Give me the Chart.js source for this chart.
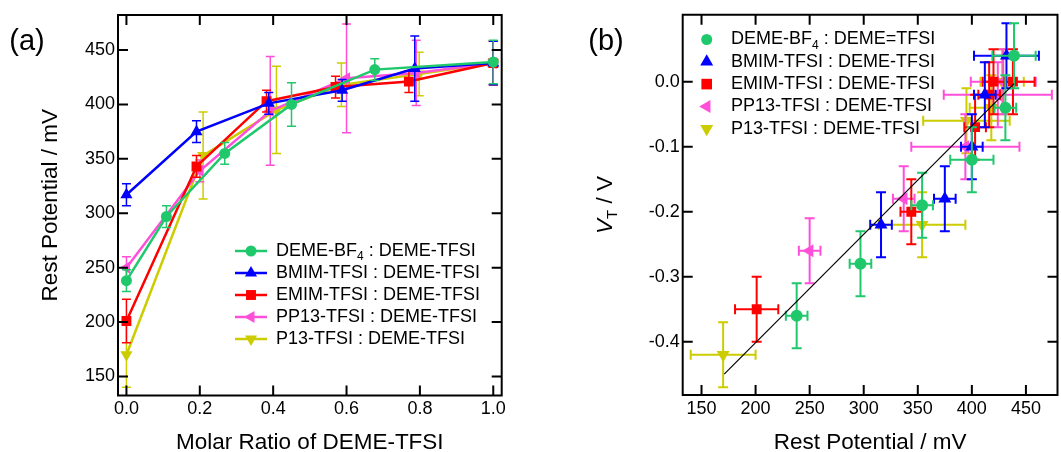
<!DOCTYPE html>
<html><head><meta charset="utf-8">
<script src="https://cdn.jsdelivr.net/npm/chart.js@4.4.1/dist/chart.umd.min.js"></script>
<style>
html,body{margin:0;padding:0;background:#fff;overflow:hidden;width:1061px;height:452px;}
#wa{position:absolute;left:0;top:0;width:530px;height:452px;}
#wb{position:absolute;left:530px;top:0;width:535px;height:452px;}
</style></head><body>
<div id="wa"><canvas id="ca" width="530" height="452"></canvas></div>
<div id="wb"><canvas id="cb" width="535" height="452"></canvas></div>
<script>
const FONT = '"Liberation Sans", Arial, Helvetica, sans-serif';

// ---------- Panel (a): rest potential (mV) vs molar ratio of DEME-TFSI ----------
const ratioBF4  = [0, 0.109, 0.268, 0.450, 0.677, 1.0];
const restBF4   = [238, 297, 355, 400, 432, 439];
const errBF4    = [10, 10, 10, 20, 10, 20];
const ratioBMIM = [0, 0.191, 0.388, 0.588, 0.786, 1.0];
const restBMIM  = [317, 375, 401, 413, 433, 438];
const errBMIM   = [10, 10, 10, 10, 30, 20];
const ratioEMIM = [0, 0.191, 0.382, 0.570, 0.770, 1.0];
const restEMIM  = [201, 343, 403, 416, 421, 438];
const errEMIM   = [20, 10, 10, 10, 10, 20];
const ratioPP13 = [0, 0.200, 0.392, 0.600, 0.790, 1.0];
const restPP13  = [250, 339, 394, 424, 429, 438];
const errPP13   = [10, 10, 50, 50, 30, 20];
const ratioP13  = [0, 0.209, 0.409, 0.586, 0.798, 1.0];
const restP13   = [170, 353, 395, 418, 428, 438];
const errP13    = [30, 40, 40, 20, 20, 20];

// ---------- Panel (b): V_T (V) vs rest potential (mV) ----------
const rbBF4     = [238, 297, 354, 400, 431, 439];
const vtBF4     = [-0.36, -0.28, -0.19, -0.12, -0.04, 0.04];
const rbErrBF4  = [10, 10, 10, 20, 10, 20];
const vtErrBF4  = [0.05, 0.05, 0.05, 0.05, 0.05, 0.05];
const rbBMIM    = [316, 375, 400, 412, 432];
const vtBMIM    = [-0.22, -0.18, -0.10, -0.02, 0.04];
const rbErrBMIM = [10, 10, 10, 10, 30];
const vtErrBMIM = [0.05, 0.05, 0.05, 0.05, 0.05];
const rbEMIM    = [201, 344, 403, 416, 420, 438];
const vtEMIM    = [-0.35, -0.20, -0.07, -0.02, 0.0, 0.0];
const rbErrEMIM = [20, 10, 10, 10, 10, 20];
const vtErrEMIM = [0.05, 0.05, 0.05, 0.05, 0.05, 0.05];
const rbPP13    = [250, 337, 394, 424, 429];
const vtPP13    = [-0.26, -0.18, -0.10, -0.02, 0.0];
const rbErrPP13 = [10, 10, 50, 50, 30];
const vtErrPP13 = [0.05, 0.05, 0.05, 0.05, 0.05];
const rbP13     = [170, 354, 395, 418, 428];
const vtP13     = [-0.42, -0.22, -0.06, -0.04, 0.0];
const rbErrP13  = [30, 40, 40, 20, 20];
const vtErrP13  = [0.05, 0.05, 0.05, 0.05, 0.05];
const fitRest   = [171, 439];
const fitVt     = [-0.450, -0.003];

// ---------- ticks & labels ----------
const xTicksA = [0, 0.2, 0.4, 0.6, 0.8, 1.0];
const yTicksA = [150, 200, 250, 300, 350, 400, 450];
const xTicksB = [150, 200, 250, 300, 350, 400, 450];
const yTicksB = [0, -0.1, -0.2, -0.3, -0.4];
const labelsA = ['DEME-BF_4 : DEME-TFSI', 'BMIM-TFSI : DEME-TFSI', 'EMIM-TFSI : DEME-TFSI', 'PP13-TFSI : DEME-TFSI', 'P13-TFSI : DEME-TFSI'];
const labelsB = ['DEME-BF_4 : DEME=TFSI', 'BMIM-TFSI : DEME-TFSI', 'EMIM-TFSI : DEME-TFSI', 'PP13-TFSI : DEME-TFSI', 'P13-TFSI : DEME-TFSI'];

const COLORS = ['#20c86c', '#0000ff', '#ff0000', '#ff4fd9', '#cccc00'];
const STYLES = [['circle', 0], ['triangle', 0], ['rect', 0], ['triangle', -90], ['triangle', 180]];

Chart.defaults.font.family = FONT;
Chart.defaults.color = '#000';

function pts(xs, ys) { return xs.map((x, i) => ({x: x, y: ys[i]})); }

function marker(ctx, style, rot, r, x, y) {
  ctx.beginPath();
  if (style === 'circle') ctx.arc(x, y, r, 0, 2 * Math.PI);
  else if (style === 'rect') { const s = r * Math.SQRT1_2; ctx.rect(x - s, y - s, 2 * s, 2 * s); }
  else {
    let a = rot * Math.PI / 180;
    for (let k = 0; k < 3; k++) {
      const px = x + Math.sin(a) * r, py = y - Math.cos(a) * r;
      if (k) ctx.lineTo(px, py); else ctx.moveTo(px, py);
      a += 2 * Math.PI / 3;
    }
    ctx.closePath();
  }
  ctx.fill();
}

function richText(ctx, text, x, y, size) {
  const parts = text.split(/(_\d)/);
  ctx.textAlign = 'left'; ctx.textBaseline = 'middle'; ctx.fillStyle = '#000';
  let cx = x;
  parts.forEach(p => {
    if (!p) return;
    if (p[0] === '_') {
      ctx.font = (size * 0.67) + 'px ' + FONT;
      ctx.fillText(p.slice(1), cx, y + size * 0.33);
      cx += ctx.measureText(p.slice(1)).width;
    } else {
      ctx.font = size + 'px ' + FONT;
      ctx.fillText(p, cx, y);
      cx += ctx.measureText(p).width;
    }
  });
}

const errorBars = {
  id: 'errorBars',
  beforeDatasetDraw(chart, args) {
    const ds = chart.data.datasets[args.index];
    if (!ds.yErr && !ds.xErr) return;
    const ctx = chart.ctx, xs = chart.scales.x, ys = chart.scales.y;
    const cap = ds.capHalf || 4.5;
    ctx.save();
    ctx.strokeStyle = ds.borderColor; ctx.lineWidth = ds.errWidth || 1.5; ctx.lineCap = 'butt';
    ctx.beginPath();
    ds.data.forEach((p, i) => {
      const px = xs.getPixelForValue(p.x), py = ys.getPixelForValue(p.y);
      if (ds.yErr) {
        const y1 = ys.getPixelForValue(p.y + ds.yErr[i]), y2 = ys.getPixelForValue(p.y - ds.yErr[i]);
        ctx.moveTo(px, y1); ctx.lineTo(px, y2);
        ctx.moveTo(px - cap, y1); ctx.lineTo(px + cap, y1);
        ctx.moveTo(px - cap, y2); ctx.lineTo(px + cap, y2);
      }
      if (ds.xErr) {
        const x1 = xs.getPixelForValue(p.x - ds.xErr[i]), x2 = xs.getPixelForValue(p.x + ds.xErr[i]);
        ctx.moveTo(x1, py); ctx.lineTo(x2, py);
        ctx.moveTo(x1, py - cap); ctx.lineTo(x1, py + cap);
        ctx.moveTo(x2, py - cap); ctx.lineTo(x2, py + cap);
      }
    });
    ctx.stroke();
    ctx.restore();
  }
};

const frame = {
  id: 'frame',
  afterDatasetsDraw(chart) {
    const {ctx, chartArea: a, scales: {x, y}} = chart;
    const L = 10;
    ctx.save();
    ctx.strokeStyle = '#000'; ctx.lineWidth = 2; ctx.lineCap = 'butt';
    ctx.beginPath();
    ctx.rect(a.left, a.top, a.right - a.left, a.bottom - a.top);
    x.ticks.forEach(t => {
      const p = x.getPixelForValue(t.value);
      ctx.moveTo(p, a.bottom); ctx.lineTo(p, a.bottom - L);
      ctx.moveTo(p, a.top); ctx.lineTo(p, a.top + L);
    });
    y.ticks.forEach(t => {
      const p = y.getPixelForValue(t.value);
      ctx.moveTo(a.left, p); ctx.lineTo(a.left + L, p);
      ctx.moveTo(a.right, p); ctx.lineTo(a.right - L, p);
    });
    ctx.stroke();
    ctx.restore();
  }
};

function axisCfg(min, max, ticksArr, fmt, fitFn, title) {
  return {
    type: 'linear', min: min, max: max,
    grid: {display: false, drawTicks: false}, border: {display: false},
    afterBuildTicks: s => { s.ticks = ticksArr.map(v => ({value: v})); },
    ticks: {font: {size: 18}, autoSkip: false, maxRotation: 0, callback: fmt},
    title: title,
    afterFit: fitFn
  };
}

// ---------------- Chart (a) ----------------
const dataA = [
  [ratioBF4, restBF4, errBF4], [ratioBMIM, restBMIM, errBMIM], [ratioEMIM, restEMIM, errEMIM],
  [ratioPP13, restPP13, errPP13], [ratioP13, restP13, errP13]
];
const dsA = dataA.map((d, i) => ({
  label: labelsA[i], data: pts(d[0], d[1]), yErr: d[2],
  borderColor: COLORS[i], backgroundColor: COLORS[i], borderWidth: 2.5, showLine: true,
  pointStyle: STYLES[i][0], pointRotation: STYLES[i][1], pointRadius: STYLES[i][0] === 'circle' ? 5.5 : 7,
  pointBorderWidth: 0, pointHoverRadius: 0, capHalf: 4.5, errWidth: 1.5
}));

const decoA = {
  id: 'decoA',
  afterDraw(chart) {
    const ctx = chart.ctx;
    ctx.save();
    ctx.fillStyle = '#000'; ctx.font = '29px ' + FONT; ctx.textAlign = 'center'; ctx.textBaseline = 'middle';
    ctx.fillText('(a)', 27, 42);
    labelsA.forEach((t, i) => {
      const y = 251 + i * 22;
      ctx.strokeStyle = COLORS[i]; ctx.lineWidth = 2.5;
      ctx.beginPath(); ctx.moveTo(235, y); ctx.lineTo(267, y); ctx.stroke();
      ctx.fillStyle = COLORS[i];
      marker(ctx, STYLES[i][0], STYLES[i][1], STYLES[i][0] === 'circle' ? 5.5 : 7, 251, y);
      richText(ctx, t, 276, y, 18);
    });
    ctx.restore();
  }
};

new Chart(document.getElementById('ca'), {
  type: 'scatter',
  data: {datasets: dsA},
  options: {
    responsive: false, animation: false, devicePixelRatio: 1,
    layout: {padding: {left: 0, top: 15, right: 28.3, bottom: 0}},
    plugins: {legend: {display: false}, tooltip: {enabled: false}},
    scales: {
      x: Object.assign(axisCfg(-0.023, 1.023, xTicksA, v => Number(v).toFixed(1),
            s => { s.height = 56.5; s.paddingLeft = 0; s.paddingRight = 0; },
            {display: true, text: 'Molar Ratio of DEME-TFSI', font: {size: 22.5, lineHeight: 0.8}, padding: 0}),
            {}),
      y: axisCfg(132.5, 482.2, yTicksA, v => String(v),
            s => { s.width = 118; s.paddingTop = 0; s.paddingBottom = 0; },
            {display: true, text: 'Rest Potential / mV', font: {size: 22.5, lineHeight: 1}, padding: {top: 40, bottom: 0}})
    }
  },
  plugins: [errorBars, frame, decoA]
});
// tick padding
// ---------------- Chart (b) ----------------
const dataB = [
  [rbBF4, vtBF4, rbErrBF4, vtErrBF4], [rbBMIM, vtBMIM, rbErrBMIM, vtErrBMIM], [rbEMIM, vtEMIM, rbErrEMIM, vtErrEMIM],
  [rbPP13, vtPP13, rbErrPP13, vtErrPP13], [rbP13, vtP13, rbErrP13, vtErrP13]
];
const dsB = dataB.map((d, i) => ({
  label: labelsB[i], data: pts(d[0], d[1]), xErr: d[2], yErr: d[3],
  borderColor: COLORS[i], backgroundColor: COLORS[i], showLine: false,
  pointStyle: STYLES[i][0], pointRotation: STYLES[i][1], pointRadius: STYLES[i][0] === 'circle' ? 6 : (STYLES[i][0] === 'rect' ? 7 : 7.5),
  pointBorderWidth: 0, pointHoverRadius: 0, capHalf: 5, errWidth: 2
}));
dsB.push({
  label: 'fit', data: pts(fitRest, fitVt), showLine: true, borderColor: '#000', borderWidth: 1.2,
  pointRadius: 0, pointHoverRadius: 0, order: -1
});

const decoB = {
  id: 'decoB',
  afterDraw(chart) {
    const ctx = chart.ctx;
    ctx.save();
    ctx.fillStyle = '#000'; ctx.font = '29px ' + FONT; ctx.textAlign = 'center'; ctx.textBaseline = 'middle';
    ctx.fillText('(b)', 76, 42);
    labelsB.forEach((t, i) => {
      const y = 39.5 + i * 22.3;
      ctx.fillStyle = COLORS[i];
      marker(ctx, STYLES[i][0], STYLES[i][1], STYLES[i][0] === 'circle' ? 5.5 : 7.5, 176.7, y);
      richText(ctx, t, 201, y, 18);
    });
    // y-axis title: V_T / V
    ctx.translate(76, 205);
    ctx.rotate(-Math.PI / 2);
    ctx.fillStyle = '#000'; ctx.textBaseline = 'middle'; ctx.textAlign = 'left';
    const fMain = '22.5px ' + FONT, fIt = 'italic 22.5px ' + FONT, fSub = '15px ' + FONT;
    ctx.font = fIt; const w1 = ctx.measureText('V').width;
    ctx.font = fSub; const w2 = ctx.measureText('T').width;
    ctx.font = fMain; const w3 = ctx.measureText(' / V').width;
    let x0 = -(w1 + w2 + w3) / 2;
    ctx.font = fIt; ctx.fillText('V', x0, 0); x0 += w1;
    ctx.font = fSub; ctx.fillText('T', x0, 7); x0 += w2;
    ctx.font = fMain; ctx.fillText(' / V', x0, 0);
    ctx.restore();
  }
};

const chartB = new Chart(document.getElementById('cb'), {
  type: 'scatter',
  data: {datasets: dsB},
  options: {
    responsive: false, animation: false, devicePixelRatio: 1,
    layout: {padding: {left: 0, top: 14.7, right: 3, bottom: 0}},
    plugins: {legend: {display: false}, tooltip: {enabled: false}},
    scales: {
      x: axisCfg(132.6, 479.2, xTicksB, v => String(v),
            s => { s.height = 57; s.paddingLeft = 0; s.paddingRight = 0; },
            {display: true, text: 'Rest Potential / mV', font: {size: 22.5, lineHeight: 0.8}, padding: 0}),
      y: axisCfg(-0.482, 0.103, yTicksB, v => Number(v).toFixed(1),
            s => { s.width = 152.7; s.paddingTop = 0; s.paddingBottom = 0; },
            {display: false})
    }
  },
  plugins: [errorBars, frame, decoB]
});
</script>
</body></html>
